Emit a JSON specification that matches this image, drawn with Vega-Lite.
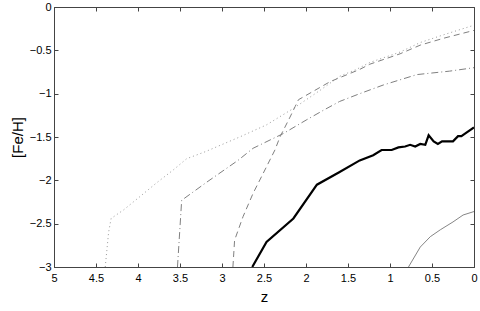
{
  "$schema": "https://vega.github.io/schema/vega-lite/v6.json",
  "width": 420,
  "height": 260,
  "autosize": {"type": "none"},
  "padding": {"left": 54, "top": 7, "right": 6, "bottom": 44},
  "background": "white",
  "config": {
    "view": {"stroke": "#444", "strokeWidth": 1},
    "font": "Liberation Sans",
    "axis": {
      "grid": false,
      "domainColor": "#444",
      "tickColor": "#444",
      "labelColor": "#000",
      "titleColor": "#000",
      "labelFont": "Liberation Sans",
      "titleFont": "Liberation Sans",
      "labelFontSize": 11,
      "titleFontSize": 15,
      "titleFontWeight": "normal"
    }
  },
  "datasets": {
    "dotted": [
      {"z": 4.39, "feh": -3.0}, {"z": 4.35, "feh": -2.6}, {"z": 4.32, "feh": -2.44},
      {"z": 4.17, "feh": -2.34}, {"z": 3.98, "feh": -2.19}, {"z": 3.78, "feh": -2.03},
      {"z": 3.58, "feh": -1.88}, {"z": 3.42, "feh": -1.75}, {"z": 3.2, "feh": -1.67},
      {"z": 2.79, "feh": -1.5}, {"z": 2.47, "feh": -1.36}, {"z": 2.15, "feh": -1.17},
      {"z": 1.83, "feh": -0.96}, {"z": 1.6, "feh": -0.8}, {"z": 1.4, "feh": -0.72},
      {"z": 1.24, "feh": -0.64}, {"z": 0.88, "feh": -0.52}, {"z": 0.64, "feh": -0.41},
      {"z": 0.36, "feh": -0.32}, {"z": 0.0, "feh": -0.21}
    ],
    "dashed": [
      {"z": 2.87, "feh": -3.0}, {"z": 2.85, "feh": -2.69}, {"z": 2.75, "feh": -2.42},
      {"z": 2.63, "feh": -2.15}, {"z": 2.51, "feh": -1.92}, {"z": 2.37, "feh": -1.65},
      {"z": 2.31, "feh": -1.5}, {"z": 2.19, "feh": -1.27}, {"z": 2.13, "feh": -1.15},
      {"z": 2.09, "feh": -1.07}, {"z": 1.71, "feh": -0.86}, {"z": 1.36, "feh": -0.72},
      {"z": 1.24, "feh": -0.66}, {"z": 0.88, "feh": -0.54}, {"z": 0.64, "feh": -0.44},
      {"z": 0.36, "feh": -0.36}, {"z": 0.0, "feh": -0.27}
    ],
    "dashdot": [
      {"z": 3.53, "feh": -3.0}, {"z": 3.48, "feh": -2.23}, {"z": 3.18, "feh": -2.02},
      {"z": 2.81, "feh": -1.77}, {"z": 2.63, "feh": -1.63}, {"z": 2.27, "feh": -1.46},
      {"z": 1.99, "feh": -1.3}, {"z": 1.79, "feh": -1.19}, {"z": 1.6, "feh": -1.09},
      {"z": 1.36, "feh": -1.0}, {"z": 1.08, "feh": -0.9}, {"z": 0.68, "feh": -0.78},
      {"z": 0.29, "feh": -0.74}, {"z": 0.0, "feh": -0.7}
    ],
    "thick": [
      {"z": 2.64, "feh": -3.0}, {"z": 2.47, "feh": -2.71}, {"z": 2.15, "feh": -2.44},
      {"z": 1.87, "feh": -2.05}, {"z": 1.61, "feh": -1.91}, {"z": 1.36, "feh": -1.77},
      {"z": 1.2, "feh": -1.71}, {"z": 1.1, "feh": -1.65}, {"z": 0.98, "feh": -1.65},
      {"z": 0.9, "feh": -1.62}, {"z": 0.82, "feh": -1.61}, {"z": 0.76, "feh": -1.59},
      {"z": 0.7, "feh": -1.61}, {"z": 0.64, "feh": -1.58}, {"z": 0.58, "feh": -1.59},
      {"z": 0.54, "feh": -1.48}, {"z": 0.48, "feh": -1.55}, {"z": 0.43, "feh": -1.58},
      {"z": 0.38, "feh": -1.55}, {"z": 0.31, "feh": -1.55}, {"z": 0.25, "feh": -1.55},
      {"z": 0.19, "feh": -1.49}, {"z": 0.15, "feh": -1.49}, {"z": 0.09, "feh": -1.45},
      {"z": 0.0, "feh": -1.39}
    ],
    "thin": [
      {"z": 0.78, "feh": -3.0}, {"z": 0.64, "feh": -2.77}, {"z": 0.52, "feh": -2.65},
      {"z": 0.4, "feh": -2.57}, {"z": 0.25, "feh": -2.48}, {"z": 0.13, "feh": -2.4},
      {"z": 0.0, "feh": -2.36}
    ]
  },
  "resolve": {"axis": {"x": "independent", "y": "independent"}},
  "layer": [
    {
      "data": {"name": "dotted"},
      "mark": {"type": "line", "color": "#9a9a9a", "strokeWidth": 1, "strokeDash": [1, 3], "clip": true},
      "encoding": {
        "x": {
          "field": "z", "type": "quantitative",
          "scale": {"domain": [0, 5], "reverse": true, "nice": false, "zero": false},
          "axis": {"values": [0, 0.5, 1, 1.5, 2, 2.5, 3, 3.5, 4, 4.5, 5], "format": "~g", "title": "z", "tickSize": -4, "labelPadding": 9, "titlePadding": 6, "labelFlush": false, "labelOverlap": false}
        },
        "y": {
          "field": "feh", "type": "quantitative",
          "scale": {"domain": [-3, 0], "nice": false, "zero": false},
          "axis": {"values": [-3, -2.5, -2, -1.5, -1, -0.5, 0], "format": "~g", "title": "[Fe/H]", "tickSize": -4, "labelPadding": 7, "titlePadding": 4, "labelFlush": false, "labelOverlap": false}
        }
      }
    },
    {
      "data": {"name": "dashed"},
      "mark": {"type": "line", "color": "#808080", "strokeWidth": 1, "strokeDash": [6, 4], "clip": true},
      "encoding": {
        "x": {"field": "z", "type": "quantitative", "axis": {"orient": "top", "values": [0, 0.5, 1, 1.5, 2, 2.5, 3, 3.5, 4, 4.5, 5], "labels": false, "domain": false, "title": null, "tickSize": -4}},
        "y": {"field": "feh", "type": "quantitative", "axis": {"orient": "right", "values": [-3, -2.5, -2, -1.5, -1, -0.5, 0], "labels": false, "domain": false, "title": null, "tickSize": -4}}
      }
    },
    {"data": {"name": "dashdot"}, "mark": {"type": "line", "color": "#808080", "strokeWidth": 1, "strokeDash": [7, 3, 1, 3], "clip": true},
      "encoding": {"x": {"field": "z", "type": "quantitative", "axis": null}, "y": {"field": "feh", "type": "quantitative", "axis": null}}},
    {"data": {"name": "thick"}, "mark": {"type": "line", "color": "#000000", "strokeWidth": 2.2, "clip": true},
      "encoding": {"x": {"field": "z", "type": "quantitative", "axis": null}, "y": {"field": "feh", "type": "quantitative", "axis": null}}},
    {"data": {"name": "thin"}, "mark": {"type": "line", "color": "#666666", "strokeWidth": 0.8, "clip": true},
      "encoding": {"x": {"field": "z", "type": "quantitative", "axis": null}, "y": {"field": "feh", "type": "quantitative", "axis": null}}}
  ]
}
